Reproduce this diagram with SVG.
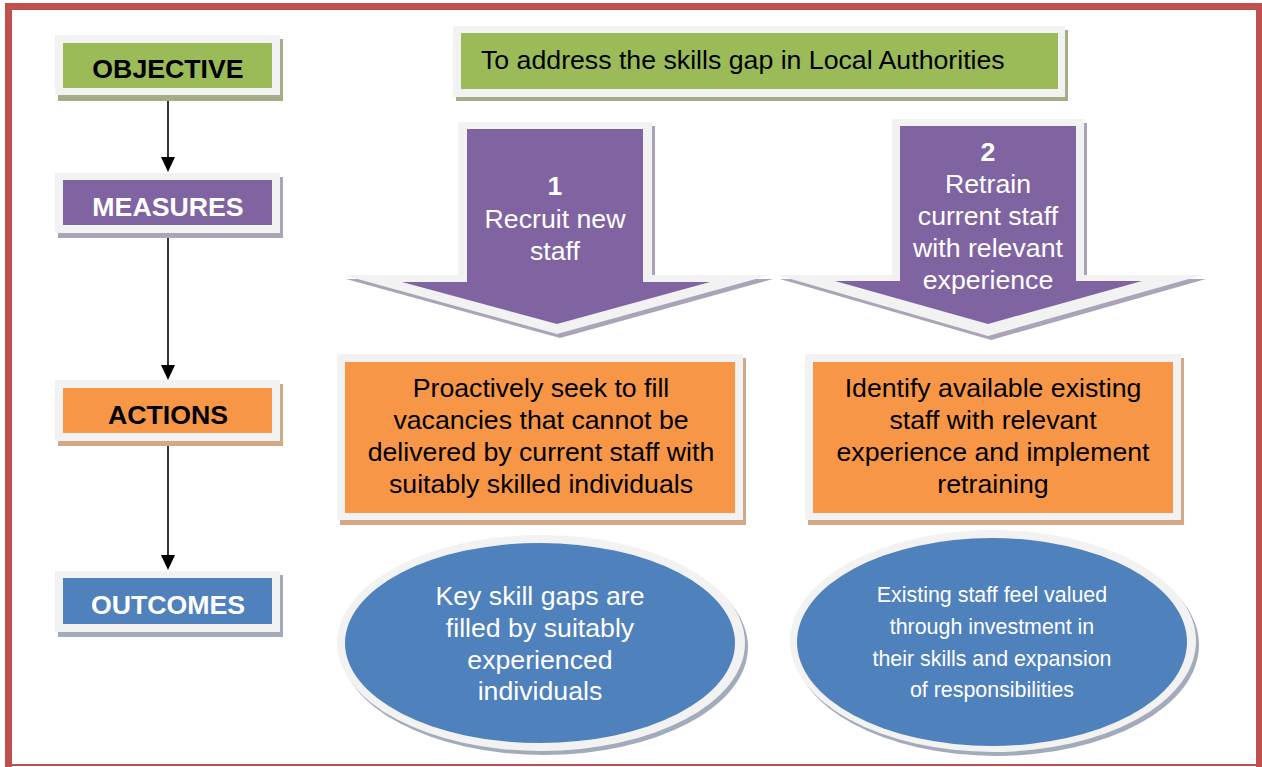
<svg xmlns="http://www.w3.org/2000/svg" width="1262" height="767" viewBox="0 0 1262 767">
<style>
.frame{fill:#F2F2F2}
.t{font-family:"Liberation Sans",Arial,sans-serif;font-size:26.7px;text-anchor:middle}
.b{font-weight:bold}
.w{fill:#FFFFFF}
.k{fill:#000000}
.green{fill:#9BBB59}
.purple{fill:#8064A2}
.orange{fill:#F79646}
.blue{fill:#4F81BD}
.sg{fill:#A3AE88}
.sp{fill:#ABA4B8}
.so{fill:#D2A986}
.sb{fill:#A2ABBC}
.conn{stroke:#000;stroke-width:1.6;fill:none}
.small{font-size:21.4px}
</style>
<rect width="1262" height="767" fill="#FFFFFF"/>
<g id="border" fill="#C0504D">
<rect x="5" y="3" width="1257" height="7"/>
<rect x="5" y="3" width="7" height="764"/>
<rect x="1256" y="3" width="6" height="764"/>
<rect x="5" y="764" width="1257" height="2"/>
</g>
<g id="connectors">
<path class="conn" d="M168,95 V157"/>
<path d="M161,157 L175,157 L168,172 Z"/>
<path class="conn" d="M168,233 V365"/>
<path d="M161,365 L175,365 L168,380 Z"/>
<path class="conn" d="M168,441 V555"/>
<path d="M161,555 L175,555 L168,570 Z"/>
</g>
<g id="objective-label">
<rect class="sg" x="58" y="39" width="225" height="62"/>
<rect class="frame" x="55" y="35" width="225" height="60"/>
<rect class="green" x="63" y="43" width="209" height="45"/>
<text class="t b k" x="168" y="78">OBJECTIVE</text>
</g>
<g id="measures-label">
<rect class="sp" x="58" y="177" width="225" height="61"/>
<rect class="frame" x="55" y="173" width="225" height="60"/>
<rect class="purple" x="63" y="180" width="209" height="45"/>
<text class="t b w" x="168" y="216">MEASURES</text>
</g>
<g id="actions-label">
<rect class="so" x="58" y="384" width="225" height="62"/>
<rect class="frame" x="55" y="380" width="225" height="61"/>
<rect class="orange" x="63" y="388" width="209" height="45"/>
<text class="t b k" x="168" y="424">ACTIONS</text>
</g>
<g id="outcomes-label">
<rect class="sb" x="58" y="575" width="225" height="62"/>
<rect class="frame" x="55" y="571" width="225" height="61"/>
<rect class="blue" x="63" y="578" width="209" height="46"/>
<text class="t b w" x="168" y="614">OUTCOMES</text>
</g>
<g id="objective">
<rect class="sg" x="456" y="30" width="612" height="71"/>
<rect class="frame" x="453" y="26" width="612" height="71"/>
<rect class="green" x="461" y="33" width="597" height="56"/>
<text class="t k" x="481" y="69" style="text-anchor:start">To address the skills gap in Local Authorities</text>
</g>
<g id="measure-1">
<polygon class="sp" points="461,126 655,126 655,279 773,279 560,338 346,279 461,279"/>
<polygon class="frame" points="458,122 652,122 652,275 770,275 557,334 343,275 458,275"/>
<polygon class="purple" points="467,129 643,129 643,282 710,282 557,324 402,282 467,282"/>
<text class="t b w" x="555" y="195">1</text>
<text class="t w" x="555" y="228">Recruit new</text>
<text class="t w" x="555" y="260">staff</text>
</g>
<g id="measure-2">
<polygon class="sp" points="895,123 1087,123 1087,279 1206,279 991,340 780,279 895,279"/>
<polygon class="frame" points="892,119 1084,119 1084,275 1203,275 988,336 777,275 892,275"/>
<polygon class="purple" points="900,126 1076,126 1076,281 1142,281 988,324 835,281 900,281"/>
<text class="t b w" x="988" y="161">2</text>
<text class="t w" x="988" y="193">Retrain</text>
<text class="t w" x="988" y="225">current staff</text>
<text class="t w" x="988" y="257">with relevant</text>
<text class="t w" x="988" y="289">experience</text>
</g>
<g id="action-1">
<rect class="so" x="340" y="358" width="406" height="167"/>
<rect class="frame" x="337" y="354" width="406" height="166"/>
<rect class="orange" x="345" y="362" width="390" height="151"/>
<text class="t k" x="541" y="397">Proactively seek to fill</text>
<text class="t k" x="541" y="429">vacancies that cannot be</text>
<text class="t k" x="541" y="461">delivered by current staff with</text>
<text class="t k" x="541" y="493">suitably skilled individuals</text>
</g>
<g id="action-2">
<rect class="so" x="808" y="358" width="376" height="167"/>
<rect class="frame" x="805" y="354" width="376" height="166"/>
<rect class="orange" x="813" y="362" width="360" height="151"/>
<text class="t k" x="993" y="397">Identify available existing</text>
<text class="t k" x="993" y="429">staff with relevant</text>
<text class="t k" x="993" y="461">experience and implement</text>
<text class="t k" x="993" y="493">retraining</text>
</g>
<g id="outcome-1">
<ellipse class="sb" cx="544" cy="647" rx="204" ry="108"/>
<ellipse class="frame" cx="541" cy="643" rx="204" ry="108"/>
<ellipse class="blue" cx="540" cy="643" rx="195" ry="100"/>
<text class="t w" x="540" y="605">Key skill gaps are</text>
<text class="t w" x="540" y="637">filled by suitably</text>
<text class="t w" x="540" y="669">experienced</text>
<text class="t w" x="540" y="700">individuals</text>
</g>
<g id="outcome-2">
<ellipse class="sb" cx="996" cy="645" rx="203" ry="111"/>
<ellipse class="frame" cx="993" cy="641" rx="203" ry="111"/>
<ellipse class="blue" cx="992" cy="642" rx="195" ry="104"/>
<text class="t w small" x="992" y="602">Existing staff feel valued</text>
<text class="t w small" x="992" y="634">through investment in</text>
<text class="t w small" x="992" y="666">their skills and expansion</text>
<text class="t w small" x="992" y="697">of responsibilities</text>
</g>
</svg>
